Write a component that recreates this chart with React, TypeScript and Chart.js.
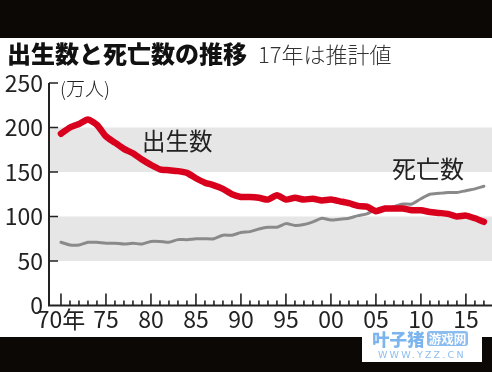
import React, { useEffect, useRef } from "react";
import { Chart, registerables } from "chart.js";

Chart.register(...registerables);

const years: number[] = [
  1970, 1971, 1972, 1973, 1974, 1975, 1976, 1977, 1978, 1979,
  1980, 1981, 1982, 1983, 1984, 1985, 1986, 1987, 1988, 1989,
  1990, 1991, 1992, 1993, 1994, 1995, 1996, 1997, 1998, 1999,
  2000, 2001, 2002, 2003, 2004, 2005, 2006, 2007, 2008, 2009,
  2010, 2011, 2012, 2013, 2014, 2015, 2016, 2017,
];

const births: number[] = [
  193, 200, 204, 209, 203, 190, 183, 176, 171, 164,
  158, 153, 152, 151, 149, 143, 138, 135, 131, 125,
  122, 122, 121, 119, 124, 119, 121, 119, 120, 118,
  119, 117, 115, 112, 111, 106, 109, 109, 109, 107,
  107, 105, 104, 103, 100, 101, 98, 94,
];

const deaths: number[] = [
  71, 68, 68, 71, 71, 70, 70, 69, 70, 69,
  72, 72, 71, 74, 74, 75, 75, 75, 79, 79,
  82, 83, 86, 88, 88, 92, 90, 91, 94, 98,
  96, 97, 98, 101, 103, 108, 108, 111, 114, 114,
  120, 125, 126, 127, 127, 129, 131, 134,
];

const yTicks: number[] = [0, 50, 100, 150, 200, 250];
const bands: [number, number][] = [
  [150, 200],
  [50, 100],
];

const NARROW = "'Liberation Sans Narrow', 'Noto Sans CJK JP', sans-serif";
const CJK = "'Noto Sans CJK JP', sans-serif";

const decorPlugin = {
  id: "decor",
  beforeDatasetsDraw(chart: any) {
    const { ctx, chartArea, scales } = chart;
    const y = scales.y;
    ctx.save();
    ctx.fillStyle = "#e6e6e6";
    for (const [lo, hi] of bands) {
      const top = y.getPixelForValue(hi);
      const bot = y.getPixelForValue(lo);
      ctx.fillRect(chartArea.left, top, chartArea.right - chartArea.left, bot - top);
    }
    ctx.restore();
  },
  afterDatasetsDraw(chart: any) {
    const { ctx, chartArea, scales } = chart;
    const x = scales.x;
    const y = scales.y;
    ctx.save();
    ctx.strokeStyle = "#222";
    ctx.lineWidth = 2;
    const x0 = chartArea.left;
    const yb = y.getPixelForValue(0);
    const yt = y.getPixelForValue(250);
    ctx.beginPath();
    ctx.moveTo(x0, yt);
    ctx.lineTo(x0, yb);
    ctx.lineTo(chartArea.right, yb);
    ctx.stroke();
    ctx.lineWidth = 1.6;
    ctx.beginPath();
    for (const v of yTicks) {
      if (v === 0) continue;
      const py = y.getPixelForValue(v);
      ctx.moveTo(x0, py);
      ctx.lineTo(x0 + 9, py);
    }
    for (const yr of years) {
      const px = x.getPixelForValue(yr);
      const len = yr % 5 === 0 ? 12 : 5;
      ctx.moveTo(px, yb);
      ctx.lineTo(px, yb - len);
    }
    ctx.stroke();
    ctx.restore();
  },
};

export default function App() {
  const ref = useRef<HTMLCanvasElement | null>(null);

  useEffect(() => {
    if (!ref.current) return;
    const chart = new Chart(ref.current, {
      type: "line",
      data: {
        datasets: [
          {
            label: "出生数",
            data: years.map((yr, i) => ({ x: yr, y: births[i] })),
            borderColor: "#d8001c",
            borderWidth: 6.5,
            pointRadius: 0,
            tension: 0.2,
            order: 0,
            borderCapStyle: "round",
            borderJoinStyle: "round",
          },
          {
            label: "死亡数",
            data: years.map((yr, i) => ({ x: yr, y: deaths[i] })),
            borderColor: "#8a8a8a",
            borderWidth: 3,
            pointRadius: 0,
            tension: 0.2,
            order: 1,
            borderCapStyle: "round",
          },
        ],
      },
      options: {
        animation: false,
        responsive: false,
        maintainAspectRatio: false,
        layout: { padding: { top: 45, left: 0, right: 0, bottom: 0 } },
        plugins: { legend: { display: false }, tooltip: { enabled: false } },
        scales: {
          x: {
            type: "linear",
            min: 1968.67,
            max: 2017.9,
            grid: { display: false, drawTicks: false },
            border: { display: false },
            afterBuildTicks: (scale: any) => {
              scale.ticks = years.map((v) => ({ value: v }));
            },
            afterFit: (scale: any) => {
              scale.height = 31.5;
            },
            ticks: {
              autoSkip: false,
              maxRotation: 0,
              minRotation: 0,
              padding: 0,
              color: "#222",
              font: { family: NARROW, size: 23 },
              callback: (value: any) => {
                const v = Number(value);
                if (v % 5 !== 0) return "";
                if (v === 1970) return "70年";
                return String(v % 100).padStart(2, "0");
              },
            },
          },
          y: {
            min: 0,
            max: 250,
            grid: { display: false, drawTicks: false },
            border: { display: false },
            afterBuildTicks: (scale: any) => {
              scale.ticks = yTicks.map((v) => ({ value: v }));
            },
            afterFit: (scale: any) => {
              scale.width = 49;
            },
            ticks: {
              padding: 6,
              color: "#222",
              font: { family: NARROW, size: 23 },
            },
          },
        },
      },
      plugins: [decorPlugin],
    } as any);
    return () => chart.destroy();
  }, []);

  const txt = (extra: React.CSSProperties): React.CSSProperties => ({
    position: "absolute",
    whiteSpace: "nowrap",
    lineHeight: 1,
    margin: 0,
    ...extra,
  });

  return (
    <div
      style={{
        position: "fixed",
        left: 0,
        top: 0,
        width: 492,
        height: 372,
        background: "#0b0806",
        overflow: "hidden",
      }}
    >
      <div
        style={{
          position: "absolute",
          left: 0,
          top: 38,
          width: 492,
          height: 299,
          background: "#ffffff",
        }}
      >
        <canvas ref={ref} width={492} height={299} style={{ display: "block" }} />
      </div>
      <div style={txt({ left: 7, top: 41, fontFamily: CJK, fontWeight: 900, fontSize: 24, color: "#111" })}>
        出生数と死亡数の推移
      </div>
      <div style={txt({ left: 258, top: 42, fontFamily: CJK, fontWeight: 300, fontSize: 22, color: "#333" })}>
        17年は推計値
      </div>
      <div style={txt({ left: 60, top: 78, fontFamily: CJK, fontWeight: 300, fontSize: 19, color: "#222" })}>
        (万人)
      </div>
      <div style={txt({ left: 142, top: 129, fontFamily: CJK, fontWeight: 400, fontSize: 23.5, color: "#222" })}>
        出生数
      </div>
      <div style={txt({ left: 392, top: 156, fontFamily: CJK, fontWeight: 400, fontSize: 24, color: "#222" })}>
        死亡数
      </div>
      <div
        style={{
          position: "absolute",
          left: 362,
          top: 328,
          width: 120,
          height: 34,
          background: "#ffffff",
        }}
      >
        <div style={txt({ left: 10, top: 2, fontFamily: CJK, fontWeight: 900, fontSize: 17.5, color: "#7cb4ee" })}>
          叶子猪
        </div>
        <div
          style={txt({
            left: 65,
            top: 3,
            width: 41,
            height: 15,
            textAlign: "center",
            fontFamily: CJK,
            fontWeight: 700,
            fontSize: 12.5,
            lineHeight: "15px",
            color: "#ffffff",
            background: "#8cbdf0",
            borderRadius: 3,
          })}
        >
          游戏网
        </div>
        <div
          style={txt({
            left: 16,
            top: 22,
            fontFamily: "'DejaVu Sans', sans-serif",
            fontSize: 9.5,
            letterSpacing: 2.2,
            color: "#8cbdf0",
          })}
        >
          WWW.YZZ.CN
        </div>
      </div>
    </div>
  );
}
